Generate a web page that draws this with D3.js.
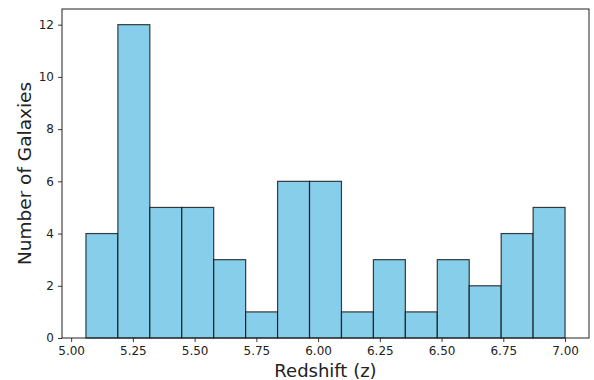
<!DOCTYPE html>
<html>
<head>
<meta charset="utf-8">
<script src="https://cdn.jsdelivr.net/npm/d3@7"></script>
<style>
  body { margin: 0; background: #fff; }
  svg text { font-family: "DejaVu Sans", sans-serif; fill: #222; }
</style>
</head>
<body>
<div id="chart"></div>
<script>
// Histogram counts per bin (15 bins between zMin and zMax)
const counts = [4, 12, 5, 5, 3, 1, 6, 6, 1, 3, 1, 3, 2, 4, 5];
const zMin = 5.06;
const zMax = 7.0;
const xTicks = [5.00, 5.25, 5.50, 5.75, 6.00, 6.25, 6.50, 6.75, 7.00];
const yTicks = [0, 2, 4, 6, 8, 10, 12];

const WIDTH = 594;
const HEIGHT = 380;
const LEFT = 62, RIGHT = 589, TOP = 9, BOTTOM = 338;

// bin edges, like matplotlib's hist
const binWidth = (zMax - zMin) / counts.length;
const bins = counts.map((c, i) => ({ x0: zMin + i * binWidth, x1: zMin + (i + 1) * binWidth, count: c }));

// matplotlib-style 5% margins on x, ylim top = max * 1.05
const pad = (zMax - zMin) * 0.05;
const xScale = d3.scaleLinear()
                 .domain([zMin - pad, zMax + pad])
                 .range([LEFT, RIGHT]);
const yScale = d3.scaleLinear()
                 .domain([0, d3.max(counts) * 1.05])
                 .range([BOTTOM, TOP]);

const svg = d3.select('#chart')
              .append('svg')
              .attr('width', WIDTH)
              .attr('height', HEIGHT);

// bars
svg.selectAll('rect.bar')
   .data(bins)
   .enter()
   .append('rect')
   .attr('class', 'bar')
   .attr('x', d => xScale(d.x0))
   .attr('y', d => yScale(d.count))
   .attr('width', d => xScale(d.x1) - xScale(d.x0))
   .attr('height', d => yScale(0) - yScale(d.count))
   .attr('fill', '#87CEEB')
   .attr('stroke', '#000')
   .attr('stroke-opacity', 0.75)
   .attr('stroke-width', 1.2);

// axes
const xAxis = d3.axisBottom(xScale)
                .tickValues(xTicks)
                .tickFormat(d3.format('.2f'))
                .tickSize(4)
                .tickSizeOuter(0)
                .tickPadding(4);
const gx = svg.append('g')
   .attr('transform', 'translate(0, ' + BOTTOM + ')')
   .call(xAxis);

const yAxis = d3.axisLeft(yScale)
                .tickValues(yTicks)
                .tickSize(4)
                .tickSizeOuter(0)
                .tickPadding(4);
const gy = svg.append('g')
   .attr('transform', 'translate(' + LEFT + ', 0)')
   .call(yAxis);

[gx, gy].forEach(g => {
  g.select('.domain').remove();
  g.selectAll('.tick line').attr('stroke', '#222').attr('stroke-width', 0.9);
  g.selectAll('.tick text').style('font-size', '12px').attr('fill', '#222');
});

// frame (all four spines)
svg.append('rect')
   .attr('x', LEFT)
   .attr('y', TOP)
   .attr('width', RIGHT - LEFT)
   .attr('height', BOTTOM - TOP)
   .attr('fill', 'none')
   .attr('stroke', '#222')
   .attr('stroke-width', 1);

// axis labels
svg.append('text')
   .attr('x', (LEFT + RIGHT) / 2)
   .attr('y', 377)
   .attr('text-anchor', 'middle')
   .style('font-size', '18px')
   .text('Redshift (z)');

svg.append('text')
   .attr('transform', 'translate(31, ' + ((TOP + BOTTOM) / 2) + ') rotate(-90)')
   .attr('text-anchor', 'middle')
   .style('font-size', '18.5px')
   .text('Number of Galaxies');
</script>
</body>
</html>
